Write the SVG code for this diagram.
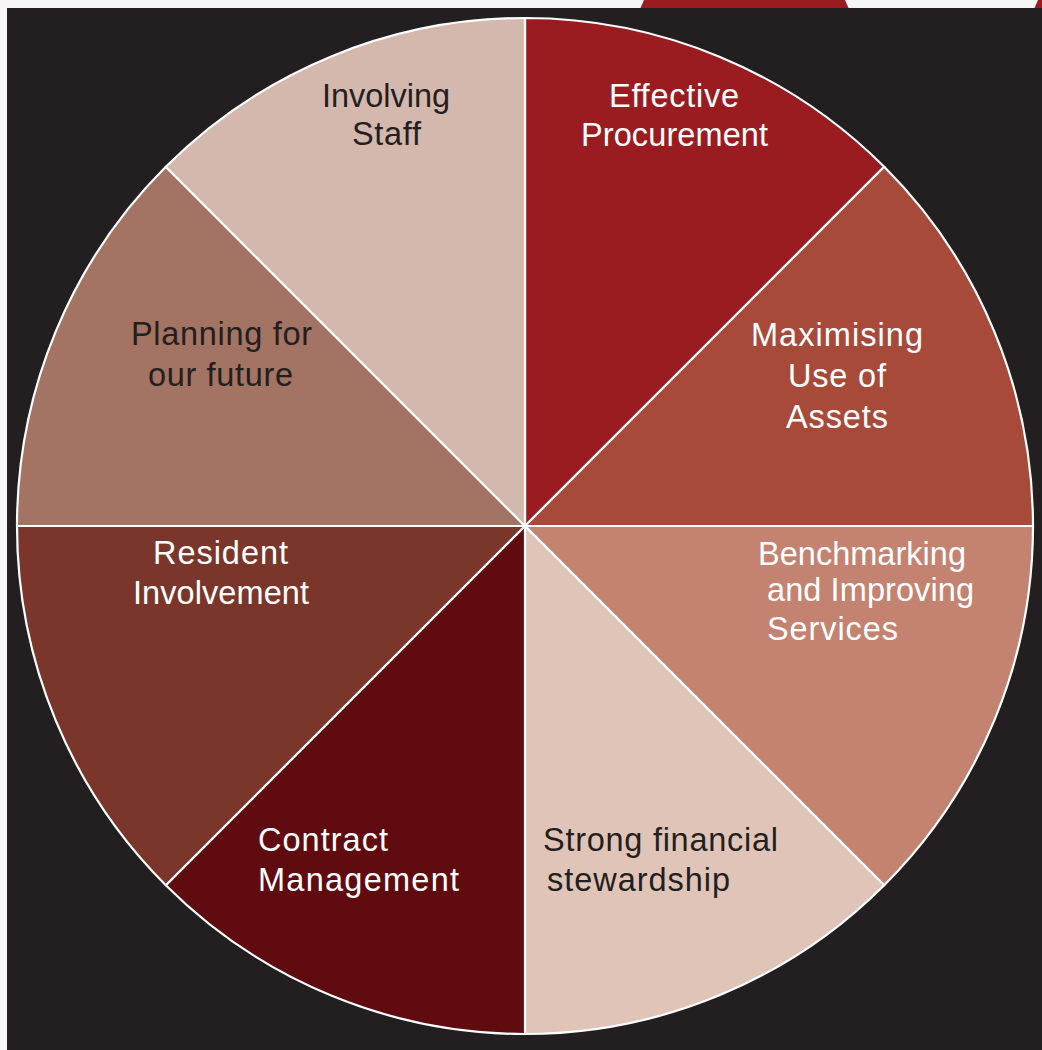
<svg xmlns="http://www.w3.org/2000/svg" width="1042" height="1050" viewBox="0 0 1042 1050">
<style>
.seg{stroke:#ffffff;stroke-width:2.2;stroke-linejoin:round}
.t{font-family:"Liberation Sans",Arial,sans-serif;font-size:32.5px}
.w{fill:#ffffff}
.d{fill:#231f20}
</style>
<rect x="0" y="0" width="1042" height="1050" fill="#f6f6f6"/>
<path d="M640.5,8 L644,0 L845,0 L848.5,8 Z" fill="#9b1c20"/>
<path d="M1042,0 L1038,0 L1034.5,8 L1042,8 Z" fill="#9b1c20"/>
<rect x="7" y="8" width="1035" height="1042" fill="#231f20"/>
<g id="effective-procurement">
<path class="seg" d="M525,526 L525,18 A508,508 0 0 1 884.2,166.8 Z" fill="#9b1c20"/>
<text class="t w" text-anchor="middle"><tspan x="674" y="107" textLength="130" lengthAdjust="spacing">Effective</tspan><tspan x="674.5" y="146" textLength="187" lengthAdjust="spacing">Procurement</tspan></text>
</g>
<g id="maximising-use-of-assets">
<path class="seg" d="M525,526 L884.2,166.8 A508,508 0 0 1 1033,526 Z" fill="#a84a3a"/>
<text class="t w" text-anchor="middle"><tspan x="837" y="346" textLength="172" lengthAdjust="spacing">Maximising</tspan><tspan x="837" y="387" textLength="98" lengthAdjust="spacing">Use of</tspan><tspan x="837" y="428" textLength="102" lengthAdjust="spacing">Assets</tspan></text>
</g>
<g id="benchmarking">
<path class="seg" d="M525,526 L1033,526 A508,508 0 0 1 884.2,885.2 Z" fill="#c48270"/>
<text class="t w"><tspan x="758" y="565" textLength="208" lengthAdjust="spacing">Benchmarking</tspan><tspan x="767" y="601" textLength="207" lengthAdjust="spacing">and Improving</tspan><tspan x="767" y="640" textLength="131" lengthAdjust="spacing">Services</tspan></text>
</g>
<g id="strong-financial-stewardship">
<path class="seg" d="M525,526 L884.2,885.2 A508,508 0 0 1 525,1034 Z" fill="#e0c4b8"/>
<text class="t d"><tspan x="543" y="851" textLength="235" lengthAdjust="spacing">Strong financial</tspan><tspan x="547" y="891" textLength="183" lengthAdjust="spacing">stewardship</tspan></text>
</g>
<g id="contract-management">
<path class="seg" d="M525,526 L525,1034 A508,508 0 0 1 165.8,885.2 Z" fill="#600b10"/>
<text class="t w"><tspan x="258" y="851" textLength="130" lengthAdjust="spacing">Contract</tspan><tspan x="258" y="891" textLength="201" lengthAdjust="spacing">Management</tspan></text>
</g>
<g id="resident-involvement">
<path class="seg" d="M525,526 L165.8,885.2 A508,508 0 0 1 17,526 Z" fill="#7b362b"/>
<text class="t w" text-anchor="middle"><tspan x="220.5" y="564" textLength="135" lengthAdjust="spacing">Resident</tspan><tspan x="221" y="604" textLength="176" lengthAdjust="spacing">Involvement</tspan></text>
</g>
<g id="planning-for-our-future">
<path class="seg" d="M525,526 L17,526 A508,508 0 0 1 165.8,166.8 Z" fill="#a37363"/>
<text class="t d" text-anchor="middle"><tspan x="221.5" y="345" textLength="181" lengthAdjust="spacing">Planning for</tspan><tspan x="220.5" y="386" textLength="145" lengthAdjust="spacing">our future</tspan></text>
</g>
<g id="involving-staff">
<path class="seg" d="M525,526 L165.8,166.8 A508,508 0 0 1 525,18 Z" fill="#d4b8ae"/>
<text class="t d" text-anchor="middle"><tspan x="386" y="107" textLength="128" lengthAdjust="spacing">Involving</tspan><tspan x="386.5" y="145" textLength="69" lengthAdjust="spacing">Staff</tspan></text>
</g>
<g id="connectors"/>
</svg>
